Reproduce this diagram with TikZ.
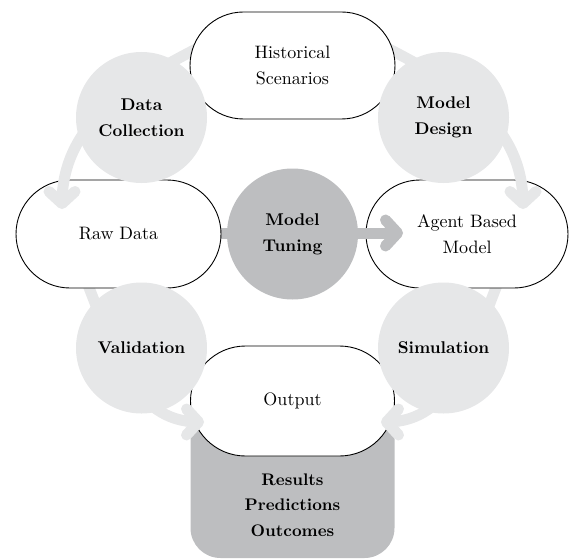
\documentclass[tikz,border=0pt]{standalone}
\usepackage{fontspec}
\setmainfont{lmroman10-regular.otf}[BoldFont=lmroman10-bold.otf]
\usetikzlibrary{shapes.misc,arrows.meta}
\definecolor{lightc}{HTML}{E6E7E8}
\definecolor{midc}{HTML}{BDBEC0}
\pgfdeclarearrow{
  name = Chev,
  setup code = {
    \pgfarrowssettipend{5.5pt}
    \pgfarrowssetlineend{0pt}
    \pgfarrowssetbackend{-18pt}
  },
  drawing code = {
    \pgfsetlinewidth{11pt}
    \pgfsetroundjoin
    \pgfsetroundcap
    \pgfsetdash{}{0pt}
    \pgfpathmoveto{\pgfqpoint{-12pt}{13pt}}
    \pgfpathlineto{\pgfqpoint{0pt}{0pt}}
    \pgfpathlineto{\pgfqpoint{-12pt}{-13pt}}
    \pgfusepathqstroke
  }
}
\begin{document}
\begin{tikzpicture}[x=1pt,y=-1pt,
  pill/.style={rounded rectangle, draw=black, line width=0.9pt, fill=white,
    minimum width=205pt, minimum height=108pt, inner sep=0pt, align=center,
    font=\fontsize{18}{26}\selectfont},
  lcirc/.style={circle, fill=lightc, minimum size=131pt, inner sep=0pt,
    align=center, font=\fontsize{17}{26}\selectfont\bfseries},
  dcirc/.style={lcirc, fill=midc},
  flow/.style={line width=11pt, draw=lightc, -{Chev}},
  ]
\useasboundingbox (0,0) rectangle (569,559);
% connector end points
\coordinate (s1) at (200,47);
\coordinate (t1) at (62,209);
\coordinate (s2) at (385,47);
\coordinate (t2) at (523,209);
\coordinate (s3) at (86,280);
\coordinate (t3) at (204,422);
\coordinate (s4) at (499,280);
\coordinate (t4) at (381,422);
\coordinate (s5) at (200,233);
\coordinate (t5) at (403,233);

% results box
\node[rectangle, rounded corners=30pt, fill=midc, minimum width=204pt,
  minimum height=178pt, inner sep=0pt] (resbox) at (292.5,469) {};
\node[align=center, font=\fontsize{16.8}{25.5}\selectfont\bfseries] (res)
  at (292.5,505) {Results\\Predictions\\Outcomes};
\node[pill, minimum width=204pt, minimum height=110pt] (out) at (292.5,401) {Output};
\draw[flow] (s4) to[out=248,in=0] (t4);
\node[pill, minimum width=202pt] (abm) at (467,234) {Agent Based\\Model};
\draw[flow] (s3) to[out=-68,in=180] (t3);
\draw[flow, draw=midc] (s5) -- (t5);
\node[pill] (raw) at (118.5,234) {Raw Data};
\draw[flow] (s1) to[out=207,in=90] (t1);
\draw[flow] (s2) to[out=-27,in=90] (t2);
\node[pill, minimum height=107pt] (hist) at (292.5,65.5) {Historical\\Scenarios};

% circles
\node[lcirc] (dc) at (141.5,117.5) {Data\\Collection};
\node[lcirc] (md) at (443.5,117.5) {Model\\Design};
\node[dcirc] (mt) at (292.5,234) {Model\\Tuning};
\node[lcirc] (val) at (141.5,348) {Validation};
\node[lcirc] (sim) at (443.5,348) {Simulation};
\end{tikzpicture}
\end{document}
